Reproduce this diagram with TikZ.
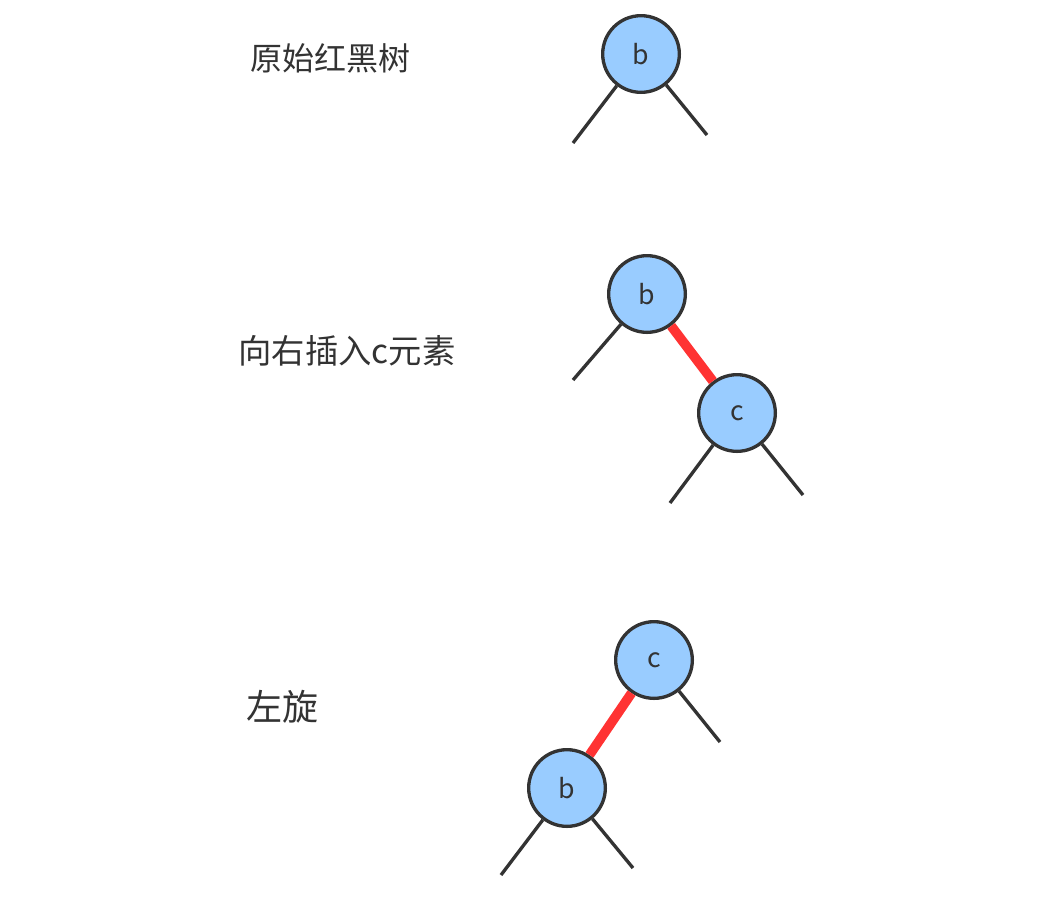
\documentclass[tikz,border=0pt]{standalone}
\usepackage{fontspec}
\setmainfont{Noto Sans CJK SC}
\usepackage{xcolor}
\usepackage{tikz}
\usetikzlibrary{positioning}
\definecolor{nodefill}{HTML}{99CCFF}
\definecolor{inkgray}{HTML}{333333}
\definecolor{redlink}{HTML}{FF3333}
\tikzset{
  treenode/.style={circle,draw=inkgray,fill=nodefill,line width=2.5pt,minimum size=57.5pt,inner sep=0pt,text=inkgray,font=\fontsize{20}{24}\selectfont},
  leafedge/.style={draw=inkgray,line width=2.5pt},
  rededge/.style={draw=redlink,line width=7.2pt},
  caption/.style={text=inkgray,inner sep=0.75pt}
}
\begin{document}
\begin{tikzpicture}[x=0.75pt,y=0.75pt,yscale=-1,xscale=1]
\useasboundingbox (0,0) rectangle (1048,908);

% original tree
\node[caption,font=\fontsize{24}{28}\selectfont] (txtorig) at (330,58) {原始红黑树};
\node[treenode] (b1) at (641,54) {b};
\coordinate (b1l) at (573,143);
\coordinate (b1r) at (707,135);
\draw[leafedge] (b1) -- (b1l);
\draw[leafedge] (b1) -- (b1r);

% insert c on the right
\node[caption,font=\fontsize{25}{30}\selectfont] (txtins) at (347,351) {向右插入c元素};
\node[treenode] (b2) at (647,294) {b};
\node[treenode] (c2) at (737,413) {c};
\draw[rededge] (b2) -- (c2);
\coordinate (b2l) at (573,380);
\coordinate (c2l) at (670,503);
\coordinate (c2r) at (803,495);
\draw[leafedge] (b2) -- (b2l);
\draw[leafedge] (c2) -- (c2l);
\draw[leafedge] (c2) -- (c2r);

% left rotation
\node[caption,font=\fontsize{27}{32}\selectfont] (txtrot) at (282,707) {左旋};
\node[treenode] (c3) at (654,660) {c};
\node[treenode] (b3) at (567,788) {b};
\draw[rededge] (c3) -- (b3);
\coordinate (c3r) at (720,742);
\coordinate (b3l) at (501,875);
\coordinate (b3r) at (633,868);
\draw[leafedge] (c3) -- (c3r);
\draw[leafedge] (b3) -- (b3l);
\draw[leafedge] (b3) -- (b3r);

\end{tikzpicture}
\end{document}
